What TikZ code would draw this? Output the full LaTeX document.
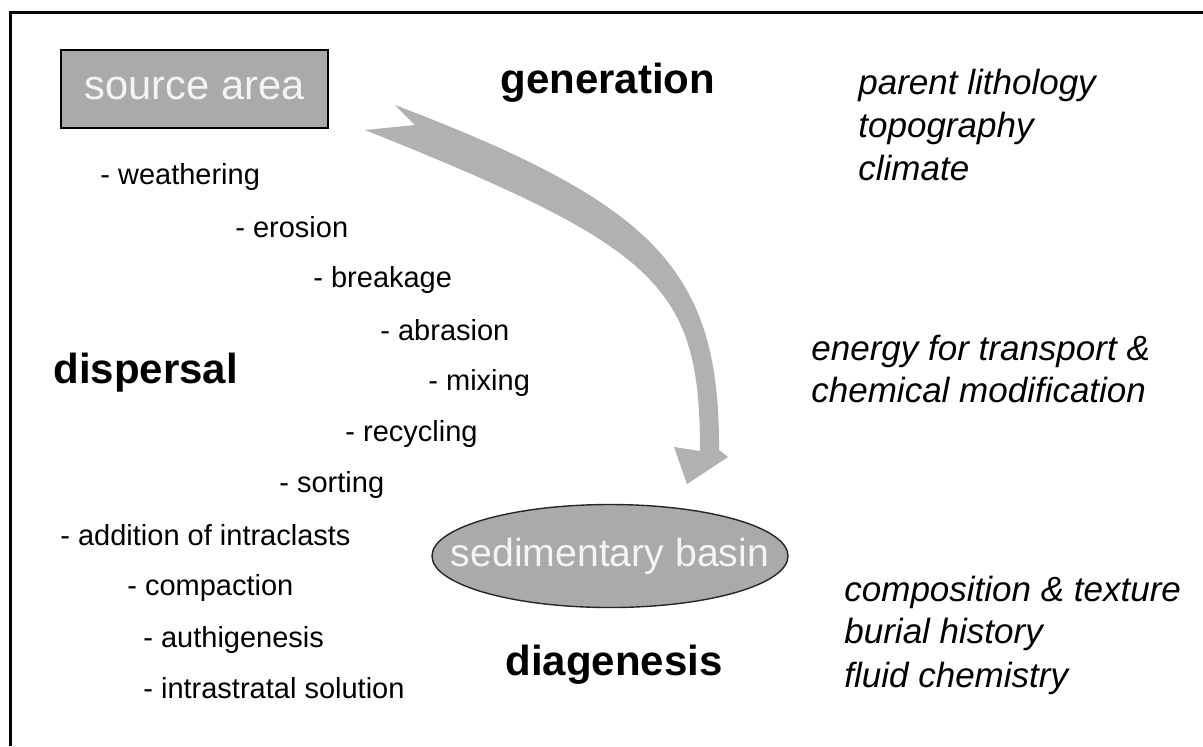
\documentclass[tikz,border=0pt]{standalone}
\usepackage{fontspec}
\setmainfont{Liberation Sans}
\usetikzlibrary{shapes.geometric}
\definecolor{boxgray}{RGB}{170,170,170}
\definecolor{arrowgray}{RGB}{177,177,179}
\definecolor{boxtext}{RGB}{244,244,244}
\tikzset{
  item/.style={anchor=base west, inner sep=0pt, font=\fontsize{14.5}{17}\selectfont},
  head/.style={anchor=base west, inner sep=0pt, font=\fontsize{21}{25}\selectfont\bfseries},
  factor/.style={anchor=base west, inner sep=0pt, font=\fontsize{17.5}{21}\selectfont\itshape},
  frame/.style={line width=1.5pt, black},
  boxlabel/.style={inner sep=0pt, text=boxtext},
}
\begin{document}
\begin{tikzpicture}[x=0.5pt,y=-0.5pt]
\useasboundingbox[fill=white] (0,0) rectangle (1203,746);
% frame (open right and bottom)
\draw[frame] (10,746) -- (10,12) -- (1203,12);

% source area box
\node[draw=black, line width=1.2pt, fill=boxgray, minimum width=133.5pt, minimum height=39pt,
      boxlabel, font=\fontsize{20.8}{24}\selectfont] (src) at (194.5,89) {source area};

% sedimentary basin ellipse
\node[ellipse, draw=black!85, line width=0.7pt, fill=boxgray, minimum width=178pt, minimum height=51.5pt,
      inner sep=0pt] (basin) at (610,556) {};
\node[boxlabel, font=\fontsize{19.6}{23}\selectfont] (basintext) at (basin.center) {sedimentary basin};

% curved arrow from source area to basin
\coordinate (tailTop) at (395,105);
\coordinate (notch) at (415,125);
\coordinate (tailBot) at (365,130);
\coordinate (outBase) at (719,450);
\coordinate (barbR) at (728,457);
\coordinate (tip) at (687,484);
\coordinate (barbL) at (674,447);
\coordinate (inBase) at (700,451);
\fill[arrowgray] (tailTop) .. controls (655,204) and (720,270) .. (outBase)
  -- (barbR) -- (tip) -- (barbL) -- (inBase)
  .. controls (700,286) and (660,248) .. (tailBot) -- (notch) -- cycle;

% headings
\node[head] (gen) at (500,93) {generation};
\node[head] (disp) at (53,383) {dispersal};
\node[head] (diag) at (505,675) {diagenesis};

% process items
\node[item] (i1) at (100,184) {- weathering};
\node[item] (i2) at (235,237) {- erosion};
\node[item] (i3) at (313,287) {- breakage};
\node[item] (i4) at (380,340) {- abrasion};
\node[item] (i5) at (428,390) {- mixing};
\node[item] (i6) at (345,441) {- recycling};
\node[item] (i7) at (279,492) {- sorting};
\node[item] (i8) at (60,545) {- addition of intraclasts};
\node[item] (i9) at (127,595) {- compaction};
\node[item] (i10) at (143,647) {- authigenesis};
\node[item] (i11) at (143,698) {- intrastratal solution};

% controlling factors
\node[factor] (f1) at (858,94) {parent lithology};
\node[factor] (f2) at (858,137) {topography};
\node[factor] (f3) at (858,180) {climate};
\node[factor] (f4) at (811,360) {energy for transport \&};
\node[factor] (f5) at (811,402) {chemical modification};
\node[factor] (f6) at (844,601) {composition \& texture};
\node[factor] (f7) at (844,643) {burial history};
\node[factor] (f8) at (844,687) {fluid chemistry};
\end{tikzpicture}
\end{document}
